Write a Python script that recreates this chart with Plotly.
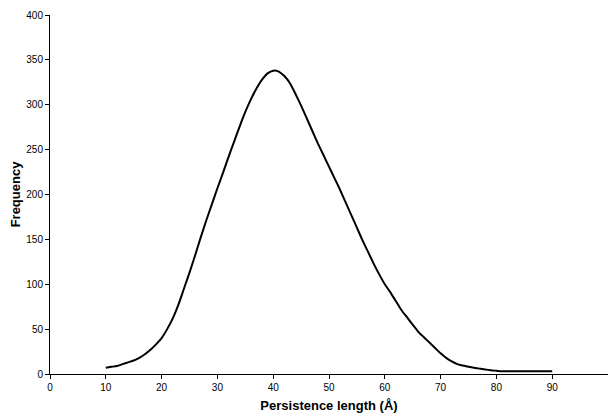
import plotly.graph_objects as go

persistence_length = list(range(10, 91))
frequency = [
    7, 8, 9, 11, 13, 15, 18, 22, 27, 33,          # 10-19
    40, 50, 62, 77, 95, 113, 132, 152, 171, 189,   # 20-29
    207, 224, 242, 259, 276, 292, 306, 318, 328, 335,  # 30-39
    338, 337, 332, 324, 312, 299, 285, 271, 257, 244,  # 40-49
    231, 218, 205, 191, 177, 163, 149, 136, 123, 111,  # 50-59
    100, 91, 81, 71, 63, 55, 47, 41, 35, 29,       # 60-69
    23, 18, 14, 11, 9.5, 8, 7, 6, 5, 4.2,          # 70-79
    3.6, 3, 3, 3, 3, 3, 3, 3, 3, 3, 3,             # 80-90
]

x_ticks = list(range(0, 101, 10))
y_ticks = list(range(0, 401, 50))

fig = go.Figure()
fig.add_trace(go.Scatter(
    x=persistence_length, y=frequency, mode="lines",
    line=dict(color="black", width=2, shape="spline", smoothing=0.6),
    showlegend=False,
))

axis_common = dict(
    showline=True, linecolor="black", linewidth=1,
    ticks="outside", ticklen=4, tickcolor="black", tickwidth=1,
    showgrid=False, zeroline=False, automargin=False,
    tickfont=dict(family="Liberation Sans, Arial", size=10, color="black"),
)

# The page body has an 8px margin; the figure is sized to compensate.
fig.update_layout(
    width=608, height=406, autosize=False,
    margin=dict(l=42, r=8, t=7, b=40),
    paper_bgcolor="white", plot_bgcolor="white",
    xaxis=dict(range=[0, 100], tickvals=x_ticks,
               title=dict(text="Persistence length (Å)", standoff=8,
                          font=dict(family="Liberation Sans, Arial", size=13, color="black", weight="bold")),
               **axis_common),
    yaxis=dict(range=[0, 400], tickvals=y_ticks,
               title=dict(text="Frequency", standoff=12,
                          font=dict(family="Liberation Sans, Arial", size=13, color="black", weight="bold")),
               **axis_common),
)

fig.write_html("out.html")
